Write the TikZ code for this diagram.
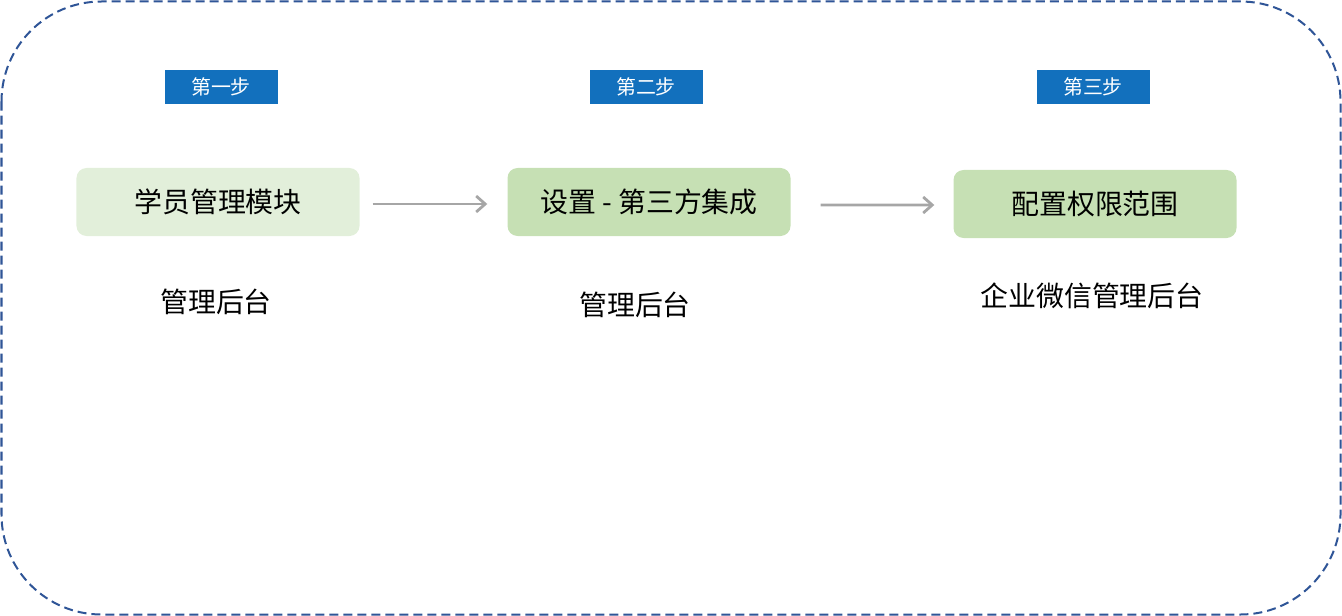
\documentclass[tikz,border=0pt]{standalone}
\usepackage{fontspec}
\newfontfamily\cjk{Noto Sans CJK SC}
\usetikzlibrary{arrows.meta}
\definecolor{stepblue}{HTML}{1270BD}
\definecolor{lightgreen}{HTML}{E2EFDA}
\definecolor{midgreen}{HTML}{C6E0B4}
\definecolor{framblue}{HTML}{2F5597}
\definecolor{arrgray}{HTML}{A6A6A6}
\tikzset{
  steplabel/.style={fill=stepblue, text=white, minimum width=113bp, minimum height=34bp, inner sep=0pt, font=\cjk\fontsize{20}{20}\selectfont},
  modbox/.style={rounded corners=10bp, minimum width=283bp, minimum height=68bp, inner sep=0pt, font=\cjk\fontsize{28}{28}\selectfont},
  sitetext/.style={inner sep=0pt, font=\cjk\fontsize{28}{28}\selectfont},
  flowarrow/.style={draw=arrgray, line width=2.8bp, -{Straight Barb[length=9bp,width=16bp,line width=2.8bp]}}
}
\begin{document}
\begin{tikzpicture}[x=1bp,y=-1bp]
  \useasboundingbox (0,0) rectangle (1342,616);
  % outer frame
  \draw[framblue, line width=2bp, dash pattern=on 9bp off 5bp, rounded corners=100bp] (1.5,1.5) rectangle (1340.5,614.5);

  % step labels
  \node[steplabel] (lab1) at (221,87) {第一步};
  \node[steplabel] (lab2) at (646,87) {第二步};
  \node[steplabel] (lab3) at (1093,87) {第三步};

  % modules
  \node[modbox, fill=lightgreen] (mod1) at (218,202) {学员管理模块};
  \node[modbox, fill=midgreen] (mod2) at (649,202) {设置 - 第三方集成};
  \node[modbox, fill=midgreen] (mod3) at (1095,204) {配置权限范围};

  % where it is done
  \node[sitetext] (site1) at (216,302) {管理后台};
  \node[sitetext] (site2) at (635,305) {管理后台};
  \node[sitetext] (site3) at (1092,296) {企业微信管理后台};

  \draw[flowarrow] ([xshift=13bp,yshift=-2bp]mod1.east) -- ([xshift=-20bp,yshift=-2bp]mod2.west);
  \draw[flowarrow] ([xshift=30bp,yshift=-3bp]mod2.east) -- ([xshift=-19bp,yshift=-1bp]mod3.west);
\end{tikzpicture}
\end{document}
